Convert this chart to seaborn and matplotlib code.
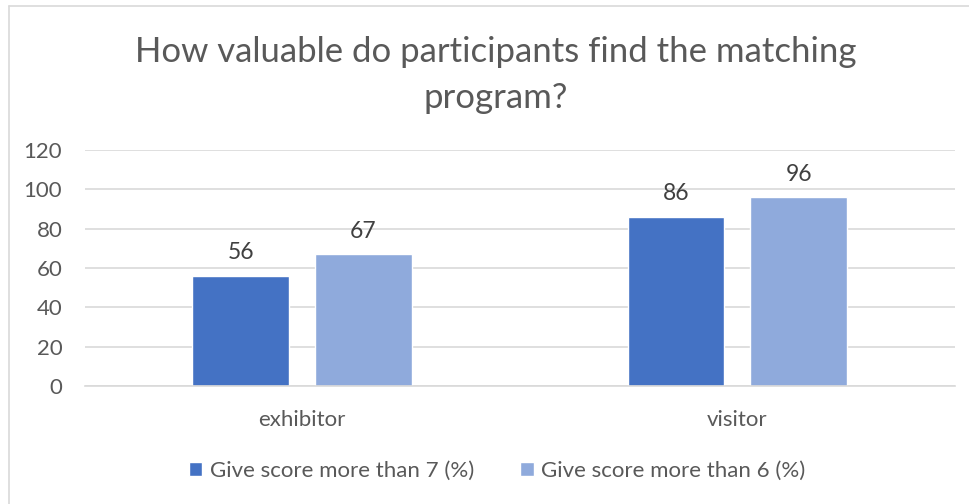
import matplotlib
matplotlib.use("Agg")
import matplotlib.pyplot as plt
from matplotlib.lines import Line2D
import seaborn as sns
import pandas as pd

categories = ["exhibitor", "visitor"]
series_names = ["Give score more than 7 (%)", "Give score more than 6 (%)"]
score_gt7 = [56, 86]
score_gt6 = [67, 96]
y_ticks = [0, 20, 40, 60, 80, 100, 120]
title = "How valuable do participants find the matching\nprogram?"

colors = ["#4472C4", "#8FAADC"]

df = pd.DataFrame({
    "category": categories * 2,
    "series": [series_names[0]] * 2 + [series_names[1]] * 2,
    "value": score_gt7 + score_gt6,
})

sns.set_style("white")
plt.rcParams["font.family"] = ["Lato", "DejaVu Sans"]

W, H = 969, 504
fig = plt.figure(figsize=(W / 100, H / 100), dpi=100)
ax = fig.add_axes([84.5 / W, 1 - 386 / H, (955 - 84.5) / W, (386 - 150) / H])

sns.barplot(data=df, x="category", y="value", hue="series", order=categories,
            hue_order=series_names, palette=colors, width=0.564, gap=0.21,
            saturation=1, ax=ax, legend=True)

ax.set_xlim(-0.5, 1.5)
ax.set_ylim(0, 120)
ax.set_yticks(y_ticks)
ax.set_yticklabels([str(t) for t in y_ticks])
ax.yaxis.grid(True, color="#D9D9D9", linewidth=1.2)
ax.set_axisbelow(True)
for s in ["top", "right", "left"]:
    ax.spines[s].set_visible(False)
ax.spines["bottom"].set_color("#D9D9D9")
ax.spines["bottom"].set_linewidth(1.2)
ax.tick_params(axis="both", length=0, labelsize=16, labelcolor="#595959")
ax.tick_params(axis="y", pad=16)
ax.tick_params(axis="x", pad=17)
ax.set_xlabel("")
ax.set_ylabel("")

for cont in ax.containers:
    ax.bar_label(cont, fmt="%d", padding=9, fontsize=16.5, color="#404040")

leg = ax.legend(loc="center", bbox_to_anchor=(0.474, -0.36), ncol=2, frameon=False,
                fontsize=16, handlelength=0.6, handleheight=0.6, handletextpad=0.32,
                columnspacing=2.1, labelcolor="#595959")

fig.text(496 / W, 1 - 75 / H, title, ha="center", va="center", fontsize=25,
         color="#595959", linespacing=1.5)

# chart border (top and left visible)
fig.add_artist(Line2D([9 / W, 1], [1 - 6 / H, 1 - 6 / H], color="#D9D9D9", lw=1.2,
                      transform=fig.transFigure))
fig.add_artist(Line2D([9 / W, 9 / W], [0, 1 - 6 / H], color="#D9D9D9", lw=1.2,
                      transform=fig.transFigure))

fig.savefig("out.png", dpi=100, facecolor="white")
